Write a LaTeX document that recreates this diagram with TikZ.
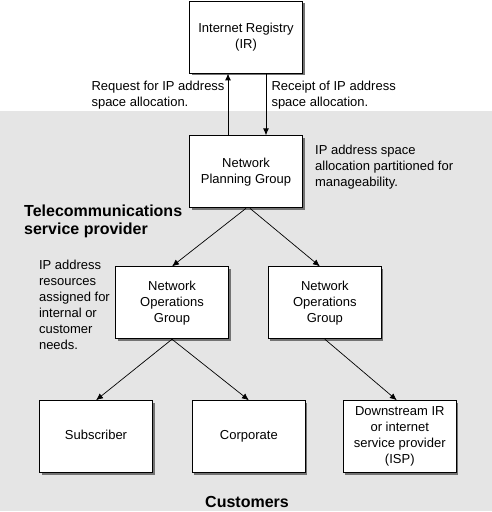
\documentclass[tikz,border=0pt]{standalone}
\usepackage{fontspec}
\setmainfont{Liberation Sans}
\usetikzlibrary{arrows.meta,positioning,shadows}

\begin{document}
\begin{tikzpicture}[
    x=1pt, y=1pt,
    box/.style={rectangle, draw=black, fill=white, line width=0.9pt, minimum width=113pt, minimum height=72pt, align=center, font=\fontsize{13}{16}\selectfont, drop shadow={shadow xshift=2pt, shadow yshift=-2pt, fill=black!55, opacity=1}},
    note/.style={align=left, inner sep=0pt, font=\fontsize{13}{16}\selectfont},
    title/.style={align=left, inner sep=0pt, font=\fontsize{16}{18}\selectfont\bfseries},
    line/.style={draw, -{Latex[length=7pt,width=6pt]}, line width=1pt},
    thinline/.style={draw, -{Latex[length=7pt,width=6pt]}, line width=0.7pt}
]

% Frame
\useasboundingbox (0,0) rectangle (492,-512);
\fill[gray!20] (0,-111) rectangle (492,-511);

% Nodes
\node[box] (ir) at (246,-37) {Internet Registry\\(IR)};
\node[box, below=62pt of ir] (npg) {Network\\Planning Group};
\node[box, below=58pt of npg, xshift=-74pt] (nogleft) {Network\\Operations\\Group};
\node[box, right=39pt of nogleft] (nogright) {Network\\Operations\\Group};
\node[box, below=61pt of nogleft, xshift=-76pt] (subscriber) {\strut Subscriber};
\node[box, right=39pt of subscriber] (corporate) {\strut Corporate};
\node[box, right=37pt of corporate] (isp) {Downstream IR\\or internet\\service provider\\(ISP)};

% Notes
\node[note, right=12pt of npg, yshift=5pt] (partition) {IP address space\\allocation partitioned for\\manageability.};
\node[note, left=5pt of nogleft, yshift=-2pt] (resources) {IP address\\resources\\assigned for\\internal or\\customer\\needs.};
\node[title, anchor=west] (provider) at (24,-221) {Telecommunications\\service provider};
\node[title] (customers) at (247,-502) {Customers};

% Lines
\draw[line] ([xshift=-18pt]npg.north) -- node[note, pos=0.645, anchor=east, xshift=-3pt] {Request for IP address\\space allocation.} ([xshift=-18pt]ir.south);
\draw[line] ([xshift=20pt]ir.south) -- node[note, pos=0.355, anchor=west, xshift=5pt] {Receipt of IP address\\space allocation.} ([xshift=20pt]npg.north);
\draw[thinline] (npg.south) -- (nogleft.north);
\draw[thinline] ([xshift=4pt]npg.south) -- ([xshift=-5pt]nogright.north);
\draw[thinline] (nogleft.south) -- (subscriber.north);
\draw[thinline] (nogleft.south) -- (corporate.north);
\draw[thinline] (nogright.south) -- ([xshift=-3pt]isp.north);

\end{tikzpicture}
\end{document}
